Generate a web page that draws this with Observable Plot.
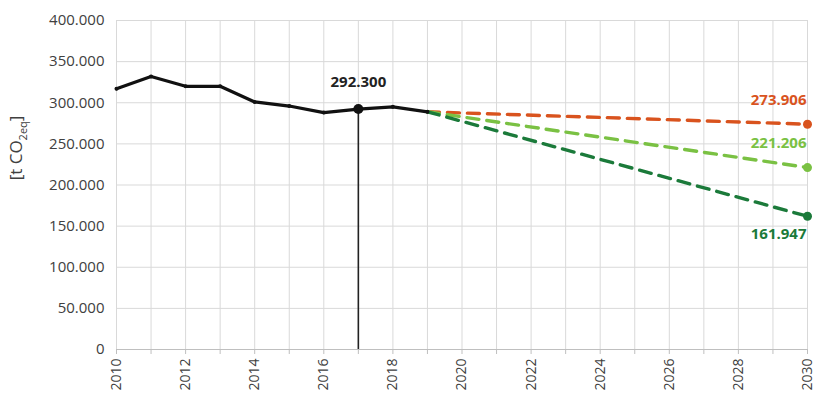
<!DOCTYPE html>
<html><head><meta charset="utf-8">
<script src="https://cdn.jsdelivr.net/npm/d3@7"></script>
<script src="https://cdn.jsdelivr.net/npm/@observablehq/plot@0.6"></script>
<style>body{margin:0;background:#fff;font-family:"Open Sans",sans-serif}</style>
</head><body><div id="chart"></div>
<script>
const years = [2010,2011,2012,2013,2014,2015,2016,2017,2018,2019];
const emissions = [317000,332000,320000,320000,301000,296000,288000,292300,295000,289000];
const projYears = [2019,2030];
const scenarioNames = ["red","light","dark"];
const scenarioEnd = [273906,221206,161947];
const scenarioColors = ["#d9531e","#7ac143","#1b7a3a"];
const markYear = 2017;
const markValue = 292300;
const yTicks = [0,50000,100000,150000,200000,250000,300000,350000,400000];
const xTicks = [2010,2012,2014,2016,2018,2020,2022,2024,2026,2028,2030];

const fmt = d => d === 0 ? "0" : d3.format(",")(d).replace(/,/g,".");
const hist = years.map((y,i)=>({year:y,value:emissions[i]}));
const start = emissions[emissions.length-1];
const proj = scenarioNames.flatMap((s,i)=>[{s,year:projYears[0],value:start},{s,year:projYears[1],value:scenarioEnd[i]}]);
const ends = scenarioNames.map((s,i)=>({s,year:2030,value:scenarioEnd[i],label:fmt(scenarioEnd[i])}));
const allYears = d3.range(2010,2031);

const chart = Plot.plot({
  width:817, height:395,
  marginLeft:116, marginRight:10, marginTop:20, marginBottom:46,
  style:{fontFamily:"Open Sans, sans-serif", fontSize:"14px", color:"#404040", overflow:"visible"},
  x:{type:"linear", domain:[2010,2030], label:null},
  y:{type:"linear", domain:[0,400000], label:null},
  color:{domain:scenarioNames, range:scenarioColors},
  marks:[
    Plot.gridX(allYears, {stroke:"#d9d9d9", strokeOpacity:1}),
    Plot.gridY(yTicks, {stroke:"#d9d9d9", strokeOpacity:1}),
    Plot.ruleY([0], {stroke:"#bfbfbf"}),
    Plot.axisX({ticks:xTicks, tickFormat:d=>String(d), tickRotate:-90, tickSize:5, tickPadding:4, stroke:"#bfbfbf", fontSize:14, fill:"#404040", label:null}),
    Plot.axisX({ticks:d3.range(2011,2031,2), tickFormat:()=>"", tickSize:5, stroke:"#bfbfbf", label:null}),
    Plot.axisY({ticks:yTicks, tickFormat:fmt, tickSize:0, tickPadding:12, fontSize:15, fill:"#404040", label:null}),
    Plot.ruleX([markYear], {y1:0, y2:markValue, stroke:"#222", strokeWidth:1.6}),
    Plot.line(proj, {x:"year", y:"value", z:"s", stroke:"s", strokeWidth:3.4, strokeDasharray:"12,8"}),
    Plot.dot(ends, {x:"year", y:"value", fill:"s", r:4.5}),
    Plot.line(hist, {x:"year", y:"value", stroke:"#111", strokeWidth:3.2}),
    Plot.dot(hist, {x:"year", y:"value", fill:"#111", r:2}),
    Plot.dot([{year:markYear,value:markValue}], {x:"year", y:"value", fill:"#111", r:5}),
    Plot.text([{year:markYear,value:markValue}], {x:"year", y:"value", text:d=>fmt(d.value), dy:-27, fontWeight:"bold", fontSize:15, fill:"#222"}),
    Plot.text(ends.filter(d=>d.s!=="dark"), {x:"year", y:"value", text:"label", fill:"s", fontWeight:"bold", fontSize:15, textAnchor:"end", dx:-1, dy:-24}),
    Plot.text(ends.filter(d=>d.s==="dark"), {x:"year", y:"value", text:"label", fill:"s", fontWeight:"bold", fontSize:15, textAnchor:"end", dx:-1, dy:18})
  ]
});
const svg = d3.select(chart);
const t = svg.append("text").attr("transform","translate(22,148) rotate(-90)")
  .attr("text-anchor","middle").attr("font-size",17).attr("fill","#404040").attr("font-family","Open Sans, sans-serif");
t.append("tspan").text("[t CO");
t.append("tspan").attr("font-size",11).attr("dy",5).text("2eq");
t.append("tspan").attr("dy",-5).text("]");
document.getElementById("chart").appendChild(chart);
</script></body></html>
